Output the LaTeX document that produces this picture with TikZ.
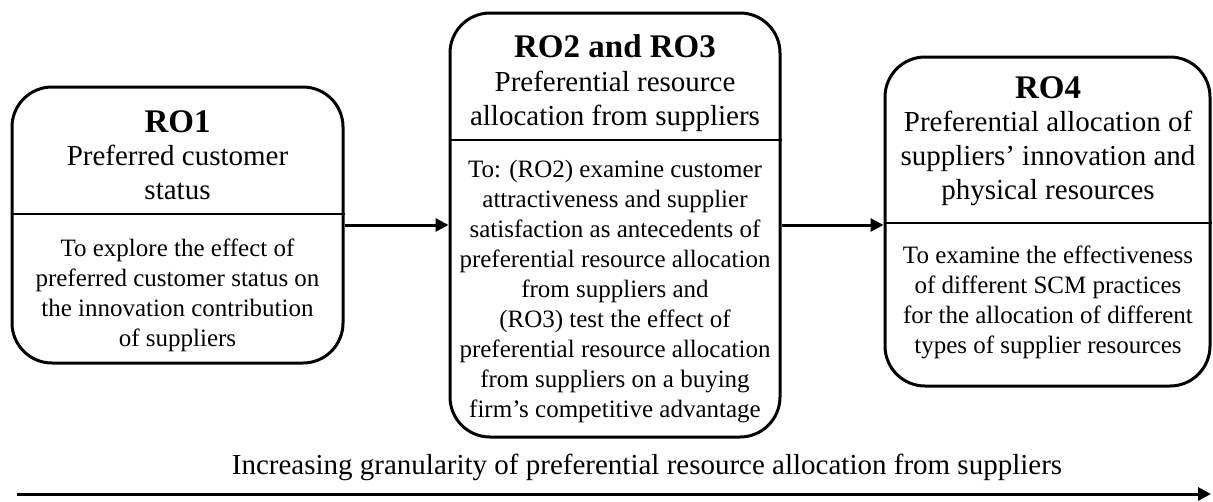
\documentclass[tikz,border=0pt]{standalone}
\usepackage{fontspec}
\setmainfont{Liberation Serif}
\usetikzlibrary{arrows.meta}
\tikzset{
  box/.style={draw, line width=3pt, rounded corners=40pt, inner sep=0pt},
  divider/.style={line width=2pt},
  conn/.style={line width=3pt, -{Triangle[length=13pt,width=13pt]}},
  titletext/.style={inner sep=0pt, font=\fontsize{33}{38}\selectfont\bfseries},
  headtext/.style={inner sep=0pt, align=center, font=\fontsize{29}{34}\selectfont},
  bodytext/.style={inner sep=0pt, align=center, font=\fontsize{25}{30}\selectfont},
}
\begin{document}
\begin{tikzpicture}[x=1pt,y=-1pt]
\useasboundingbox (0,0) rectangle (1213,501);
% boxes
\node[box, minimum width=331pt, minimum height=276pt] (b1) at (177.5,225) {};
\node[box, minimum width=330pt, minimum height=424pt] (b2) at (615,225) {};
\node[box, minimum width=325pt, minimum height=329pt] (b3) at (1047.5,221.5) {};
% dividers
\draw[divider] (b1.west |- 0,214) -- (b1.east |- 0,214);
\draw[divider] (b2.west |- 0,140) -- (b2.east |- 0,140);
\draw[divider] (b3.west |- 0,223) -- (b3.east |- 0,223);
% box 1 texts
\node[titletext] (t1) at (177.5,122) {RO1};
\node[headtext] (h1) at (177.5,172.5) {Preferred customer\\status};
\node[bodytext] (d1) at (177.5,295) {To explore the effect of\\preferred customer status on\\the innovation contribution\\of suppliers};
% box 2 texts
\node[titletext] (t2) at (615,46) {RO2 and RO3};
\node[headtext] (h2) at (615,101) {Preferential resource\\allocation from suppliers};
\node[bodytext] (d2) at (615,292) {To: (RO2) examine customer\\attractiveness and supplier\\satisfaction as antecedents of\\preferential resource allocation\\from suppliers and\\(RO3) test the effect of\\preferential resource allocation\\from suppliers on a buying\\firm’s competitive advantage};
% box 3 texts
\node[titletext] (t3) at (1048,88) {RO4};
\node[headtext] (h3) at (1048,158) {Preferential allocation of\\suppliers’ innovation and\\physical resources};
\node[bodytext] (d3) at (1048,302) {To examine the effectiveness\\of different SCM practices\\for the allocation of different\\types of supplier resources};
% connectors
\draw[conn] (b1.east) -- (b2.west |- b1.east);
\draw[conn] (b2.east) -- (b3.west |- b2.east);
% bottom axis
\node[headtext] (lab) at (647,467) {Increasing granularity of preferential resource allocation from suppliers};
\coordinate (axs) at (17,494);
\coordinate (axe) at (1211,494);
\draw[conn] (axs) -- (axe);
\end{tikzpicture}
\end{document}
